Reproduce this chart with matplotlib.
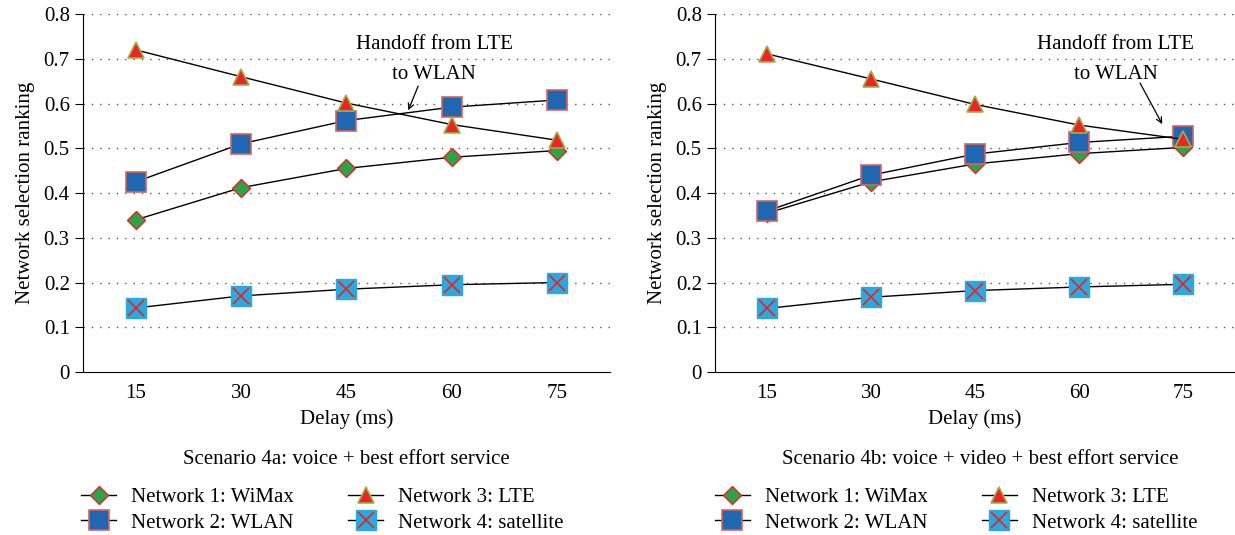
import numpy as np
import matplotlib.pyplot as plt
from matplotlib.legend_handler import HandlerTuple

plt.rcParams['font.family'] = ['Liberation Serif', 'DejaVu Serif']

delay = [15, 30, 45, 60, 75]

# Scenario 4a
wimax_a = [0.340, 0.412, 0.455, 0.480, 0.495]
wlan_a = [0.425, 0.510, 0.562, 0.592, 0.608]
lte_a = [0.720, 0.660, 0.601, 0.553, 0.518]
sat_a = [0.143, 0.170, 0.185, 0.195, 0.200]

# Scenario 4b
wimax_b = [0.355, 0.425, 0.465, 0.488, 0.502]
wlan_b = [0.360, 0.440, 0.487, 0.513, 0.527]
lte_b = [0.711, 0.655, 0.598, 0.552, 0.520]
sat_b = [0.142, 0.167, 0.182, 0.190, 0.196]

titles = ['Scenario 4a: voice + best effort service',
          'Scenario 4b: voice + video + best effort service']
labels = ['Network 1: WiMax', 'Network 2: WLAN', 'Network 3: LTE', 'Network 4: satellite']

fs = 15

fig = plt.figure(figsize=(12.35, 5.35), dpi=100)
ax1 = fig.add_axes([0.0672, 0.3047, 0.4267, 0.669])
ax2 = fig.add_axes([0.579, 0.3047, 0.421, 0.669])


def draw(ax, wimax, wlan, lte, sat, title, text_xy, arrow_from, arrow_to, title_x, leg_x):
    h1, = ax.plot(delay, wimax, '-', color='black', lw=1.0, marker='D', ms=9,
                  mfc='#2ca24a', mec='#e8231f', mew=1.0)
    h2, = ax.plot(delay, wlan, '-', color='black', lw=1.0, marker='s', ms=14,
                  mfc='#1f67b1', mec='#d9625a', mew=1.2)
    h3, = ax.plot(delay, lte, '-', color='black', lw=1.0, marker='^', ms=12,
                  mfc='#ec2424', mec='#9db04a', mew=1.2, zorder=3)
    h4, = ax.plot(delay, sat, '-', color='black', lw=1.0, marker='s', ms=14,
                  mfc='#2aa8e0', mec='#2aa8e0')
    h4x, = ax.plot(delay, sat, ' ', marker='x', ms=12, mec='#e8231f', mew=1.2)

    ax.set_xlim(7.5, 82.5)
    ax.set_ylim(0, 0.8)
    ax.set_xticks(delay)
    ax.set_yticks(np.arange(0, 0.81, 0.1))
    ax.set_yticklabels(['0'] + ['%.1f' % v for v in np.arange(0.1, 0.81, 0.1)])
    ax.tick_params(axis='x', length=0, labelsize=fs, pad=9)
    ax.tick_params(axis='y', length=6, labelsize=fs, direction='out')
    for v in np.arange(0.1, 0.81, 0.1):
        ax.axhline(v, color='#555555', lw=1.0, ls=(0, (1, 5)), zorder=0)
    ax.spines['top'].set_visible(False)
    ax.spines['right'].set_visible(False)
    ax.set_xlabel('Delay (ms)', fontsize=fs, labelpad=4)
    ax.set_ylabel('Network selection ranking', fontsize=fs, labelpad=6)

    ax.text(text_xy[0], text_xy[1], 'Handoff from LTE\nto WLAN', ha='center',
            va='center', fontsize=fs, linespacing=1.75)
    ax.annotate('', xy=arrow_to, xytext=arrow_from,
                arrowprops=dict(arrowstyle='->', color='black', lw=0.9,
                                shrinkA=0, shrinkB=0))

    ax.text(title_x, -0.245, title, transform=ax.transAxes, ha='center',
            va='center', fontsize=fs)
    ax.legend([h1, h2, h3, (h4, h4x)], labels, ncol=2,
              handler_map={tuple: HandlerTuple(ndivide=1)},
              loc='upper center', bbox_to_anchor=(leg_x, -0.27),
              frameon=False, fontsize=fs, handlelength=1.7,
              columnspacing=2.6, labelspacing=0.3, handletextpad=0.7)


draw(ax1, wimax_a, wlan_a, lte_a, sat_a, titles[0],
     (57.5, 0.698), (55.2, 0.639), (53.8, 0.585), 0.5, 0.454)
draw(ax2, wimax_b, wlan_b, lte_b, sat_b, titles[1],
     (65.3, 0.698), (68.8, 0.646), (72.0, 0.554), 0.51, 0.463)

fig.savefig('out.png', dpi=100)
